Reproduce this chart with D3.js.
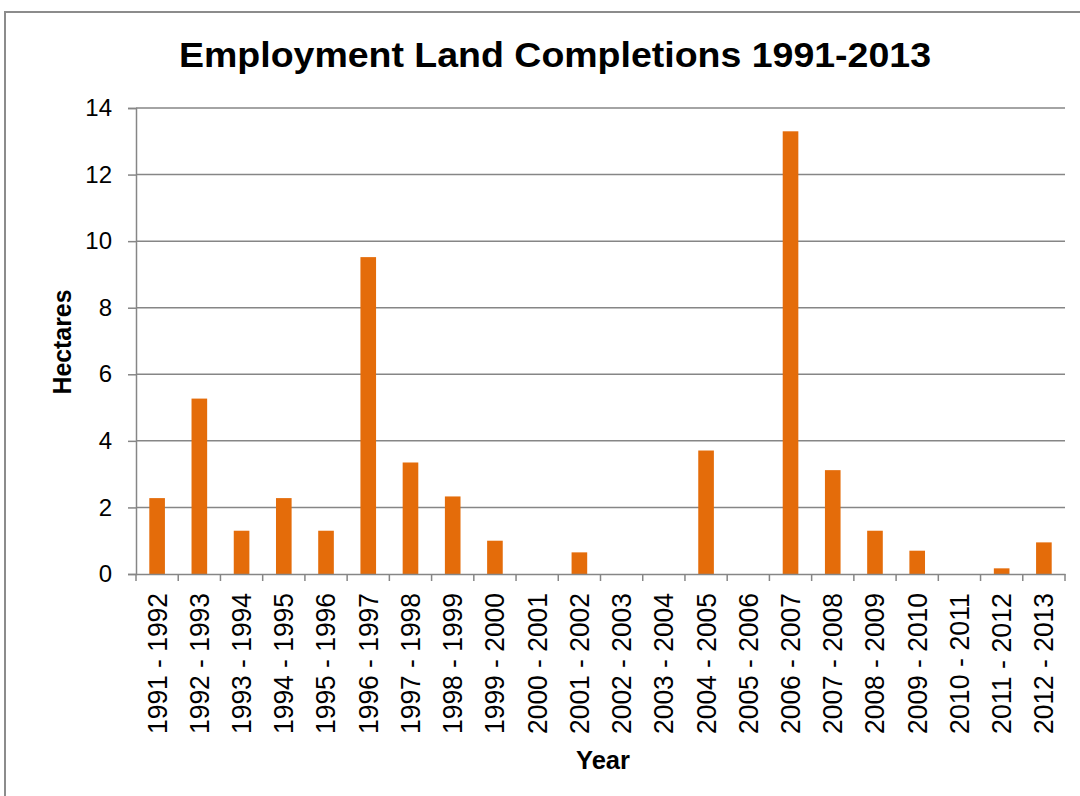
<!DOCTYPE html>
<html><head><meta charset="utf-8">
<script src="https://cdn.jsdelivr.net/npm/d3@7"></script>
<style>body{margin:0;background:#fff}svg{display:block;font-family:"Liberation Sans",Arial,sans-serif}</style>
</head><body><svg id="c" width="1080" height="796"></svg>
<script>
const categories = ["1991 - 1992","1992 - 1993","1993 - 1994","1994 - 1995","1995 - 1996","1996 - 1997","1997 - 1998","1998 - 1999","1999 - 2000","2000 - 2001","2001 - 2002","2002 - 2003","2003 - 2004","2004 - 2005","2005 - 2006","2006 - 2007","2007 - 2008","2008 - 2009","2009 - 2010","2010 - 2011","2011 - 2012","2012 - 2013"];
const hectares = [2.28,5.27,1.3,2.28,1.3,9.52,3.35,2.33,1.0,0,0.65,0,0,3.71,0,13.3,3.12,1.3,0.7,0,0.17,0.95];
const yTicks = [0,2,4,6,8,10,12,14];
const title = "Employment Land Completions 1991-2013";

const svg = d3.select("#c");
const L=136, R=1065, T=108, B=574;
const x = d3.scaleBand().domain(categories).range([L,R]).padding(0);
const y = d3.scaleLinear().domain([0,14]).range([B,T]);
const grey = "#868686";

svg.append("rect").attr("x",5).attr("y",12).attr("width",1090).attr("height",800)
  .attr("fill","none").attr("stroke","#8c8c8c").attr("stroke-width",2);

svg.append("text").attr("x",555).attr("y",67).attr("text-anchor","middle")
  .attr("font-size",35).attr("font-weight","bold").attr("textLength",752)
  .attr("lengthAdjust","spacingAndGlyphs").text(title);

// gridlines
svg.append("g").selectAll("line").data(yTicks.filter(d=>d>0)).join("line")
  .attr("x1",L).attr("x2",R).attr("y1",d=>y(d)).attr("y2",d=>y(d))
  .attr("stroke",grey).attr("stroke-width",1.5);

// y axis
const ya = svg.append("g").attr("transform",`translate(${L},0)`)
  .call(d3.axisLeft(y).tickValues(yTicks).tickSize(8).tickPadding(16).tickFormat(d3.format("d")));
ya.select(".domain").attr("stroke",grey).attr("stroke-width",1.5);
ya.selectAll(".tick line").attr("stroke",grey).attr("stroke-width",1.5);
ya.selectAll(".tick text").attr("font-size",24).attr("fill","#000").attr("font-family","Liberation Sans, Arial, sans-serif");

// bars
const bw = x.bandwidth()*0.37;
svg.append("g").selectAll("rect").data(hectares).join("rect")
  .attr("x",(d,i)=>x(categories[i])+x.bandwidth()/2-bw/2)
  .attr("width",bw)
  .attr("y",d=>y(d)).attr("height",d=>y(0)-y(d))
  .attr("fill","#E46C0A");

// x axis
const xa = svg.append("g").attr("transform",`translate(0,${B})`)
  .call(d3.axisBottom(x).tickSize(0).tickSizeOuter(0));
xa.select(".domain").attr("stroke",grey).attr("stroke-width",1.5);
xa.selectAll(".tick line").remove();
xa.selectAll(".tick text")
  .attr("font-size",27).attr("fill","#000").attr("font-family","Liberation Sans, Arial, sans-serif")
  .attr("textLength",141).attr("lengthAdjust","spacingAndGlyphs")
  .attr("transform","rotate(-90)").attr("text-anchor","end")
  .attr("x",-19).attr("y",0).attr("dy","0.35em");
// boundary ticks
const bounds = categories.map(c=>x(c)).concat([R]);
svg.append("g").selectAll("line").data(bounds).join("line")
  .attr("x1",d=>d).attr("x2",d=>d).attr("y1",B).attr("y2",B+7)
  .attr("stroke",grey).attr("stroke-width",1.5);

svg.append("text").attr("transform","translate(71,342) rotate(-90)").attr("text-anchor","middle")
  .attr("font-size",26).attr("font-weight","bold").attr("textLength",105)
  .attr("lengthAdjust","spacingAndGlyphs").text("Hectares");
svg.append("text").attr("x",603).attr("y",769).attr("text-anchor","middle")
  .attr("font-size",25).attr("font-weight","bold").attr("textLength",54)
  .attr("lengthAdjust","spacingAndGlyphs").text("Year");
</script></body></html>
